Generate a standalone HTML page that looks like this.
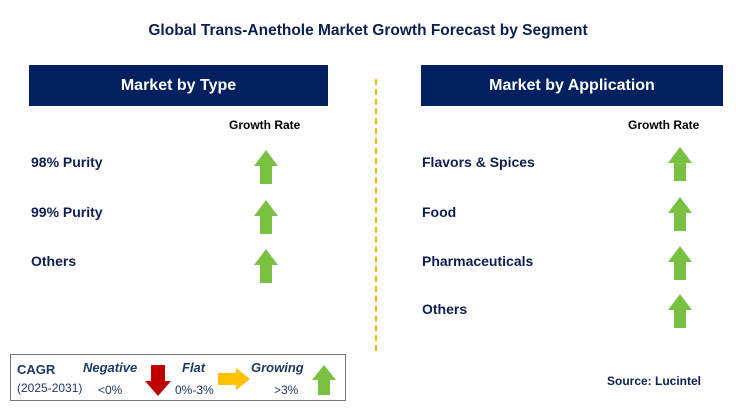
<!DOCTYPE html>
<html><head><meta charset="utf-8"><style>
body{margin:0;width:736px;height:413px;background:#fff;position:relative;overflow:hidden;font-family:"Liberation Sans",Arial,sans-serif;}
.a{position:absolute;}
.hdr{background:#002060;color:#fff;font-weight:bold;font-size:16px;display:flex;align-items:center;justify-content:center;}
.lbl{font-size:14px;font-weight:bold;color:#0d1f4f;}
.gr{font-size:12px;font-weight:bold;color:#000;}
</style></head><body>
<div class="a" style="left:0;width:736px;top:22px;text-align:center;font-size:15.5px;font-weight:bold;color:#0d1f4f;">Global Trans-Anethole Market Growth Forecast by Segment</div>
<div class="a hdr" style="left:29px;top:65px;width:299px;height:41px;">Market by Type</div>
<div class="a hdr" style="left:421px;top:65px;width:302px;height:41px;">Market by Application</div>
<div class="a" style="left:375px;top:79px;height:272px;border-left:2px dashed #f5b800;"></div>
<div class="a gr" style="left:229px;top:118px;">Growth Rate</div>
<div class="a gr" style="left:628px;top:118px;">Growth Rate</div>
<div id="rows"></div>
<div class="a" style="left:10px;top:354px;width:334px;height:45px;border:1px solid #777;"></div>
<div class="a" style="left:17px;top:362px;font-size:13px;font-weight:bold;color:#1f3864;">CAGR</div>
<div class="a" style="left:17px;top:381px;font-size:12px;color:#1f3864;">(2025-2031)</div>
<div class="a" style="left:83px;top:360px;font-size:13px;font-weight:bold;font-style:italic;color:#1f3864;">Negative</div>
<div class="a" style="left:98px;top:383px;font-size:12px;color:#1f3864;">&lt;0%</div>
<div class="a" style="left:182px;top:360px;font-size:13px;font-weight:bold;font-style:italic;color:#1f3864;">Flat</div>
<div class="a" style="left:175px;top:383px;font-size:12px;color:#1f3864;">0%-3%</div>
<div class="a" style="left:251px;top:360px;font-size:13px;font-weight:bold;font-style:italic;color:#1f3864;">Growing</div>
<div class="a" style="left:274px;top:383px;font-size:12px;color:#1f3864;">&gt;3%</div>
<svg class="a" style="left:0;top:0" width="736" height="413">
<polygon points="151,365 165,365 165,381 171,381 158,396 145,381 151,381" fill="#c00000"/>
<polygon points="218,373 236,373 236,368 250,379 236,390 236,385 218,385" fill="#ffc000"/>
<polygon points="318,395 330,395 330,380 336,380 324,365 312,380 318,380" fill="#7ac142"/>
</svg>
<div class="a" style="left:607px;top:374px;font-size:12px;font-weight:bold;color:#0d1f4f;">Source: Lucintel</div>
<script>
const typeItems=["98% Purity","99% Purity","Others"];
const typeY=[163,213,262];
const appItems=["Flavors & Spices","Food","Pharmaceuticals","Others"];
const appY=[163,213,262,310];
const rows=document.getElementById('rows');
function arrow(cx,cy){
  const s=document.createElementNS('http://www.w3.org/2000/svg','svg');
  s.setAttribute('width','26');s.setAttribute('height','36');
  s.setAttribute('class','a');
  s.style.left=(cx-13)+'px';s.style.top=(cy-18)+'px';
  
  
  s.innerHTML='<polygon points="7,35 19,35 19,17 25,17 13,1 1,17 7,17" fill="#7ac142"/>';
  rows.appendChild(s);
}
function label(x,y,t){
  const d=document.createElement('div');
  d.className='a lbl';d.textContent=t;d.style.left=x+'px';d.style.top=(y-9)+'px';
  
  
  rows.appendChild(d);
}
typeItems.forEach((t,i)=>{label(31,typeY[i],t);arrow(266,typeY[i]+4);});
appItems.forEach((t,i)=>{label(422,appY[i],t);arrow(680,appY[i]+1);});
</script>
</body></html>
